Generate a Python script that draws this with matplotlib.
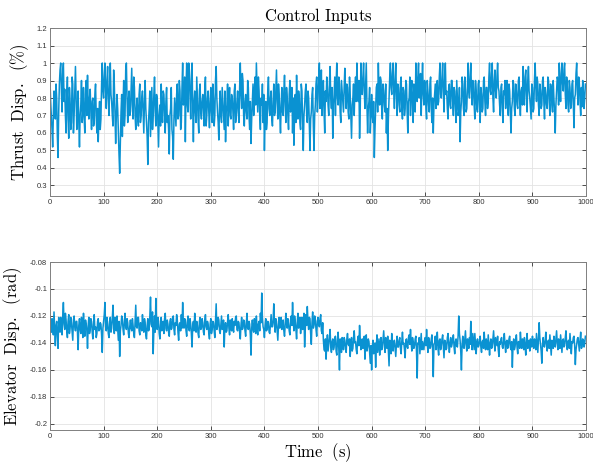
import matplotlib
matplotlib.use('Agg')
import matplotlib.pyplot as plt
import numpy as np
from matplotlib.ticker import FuncFormatter, MultipleLocator

# Valeurs relevees sur la figure
# poussee en %, echantillons a t = 0, 2.5, 5 ... (20 valeurs par tranche de 50 s)
thrust_pct = [
    90,70,52,84,68,80,46,88,100,72,100,85,60,92,57,78,66,88,70,98,
    62,84,52,76,66,86,60,90,93,68,85,62,80,66,88,60,55,78,68,100,
    80,100,74,98,70,100,78,64,88,54,82,60,37,72,58,90,70,100,66,84,
    72,97,68,86,62,80,64,88,70,84,60,90,66,42,74,58,86,70,92,64,
    80,52,76,88,66,82,60,86,70,48,74,62,45,80,64,88,70,84,66,100,
    78,55,100,72,96,68,100,55,84,66,80,60,88,68,82,64,92,70,84,63,
    86,66,80,70,98,72,56,84,66,78,62,55,76,64,86,68,80,62,88,70,
    84,66,100,74,90,64,82,68,86,62,54,78,70,92,100,72,84,62,76,66,
    50,78,66,92,70,84,64,88,72,96,68,82,60,86,70,93,66,80,62,90,
    74,60,53,82,93,68,80,62,84,50,76,88,66,80,50,72,86,50,76,92,
    80,100,84,70,90,60,78,86,70,98,74,57,82,70,100,76,88,66,84,72,
    97,74,86,68,82,57,80,70,92,100,78,57,100,82,100,74,100,60,78,60,
    82,66,46,74,88,100,76,90,68,84,72,60,50,80,100,82,100,74,100,70,
    86,72,92,68,84,74,88,60,80,70,90,66,84,100,78,100,86,70,100,76,
    88,68,84,72,92,66,60,82,74,90,78,100,80,100,72,100,84,68,88,74,
    90,70,84,66,80,72,55,78,88,70,84,74,100,80,100,76,88,68,84,72,
    90,66,82,74,92,70,86,78,100,82,100,72,96,80,100,84,70,88,66,82,
    74,90,70,84,60,78,88,70,84,74,92,70,86,98,76,96,72,98,80,68,
    86,74,100,78,88,70,84,76,92,68,82,74,90,70,86,72,80,60,84,90,
    100,78,100,84,100,74,88,72,86,76,90,63,82,100,76,88,70,75,84,80,
]
# echantillons intermediaires a t = 1.25, 3.75 ...
thrust_pct_mid = [
    78,62,70,74,88,58,72,96,84,94,78,70,82,68,86,62,92,60,84,80,
    74,66,70,90,72,68,82,70,76,80,72,78,64,82,70,74,70,62,88,84,
    92,84,90,80,86,82,70,96,72,70,74,48,56,82,76,64,96,80,78,70,
    84,76,92,70,74,68,82,66,80,72,78,74,58,66,84,72,62,82,72,82,
    66,70,64,72,84,70,78,66,62,70,86,58,68,72,82,68,90,62,86,76,
    92,84,76,100,80,90,74,78,72,92,68,84,72,78,74,86,64,80,72,78,
    72,88,64,90,80,66,76,70,86,70,84,72,88,78,70,82,72,84,66,78,
    72,86,82,94,70,78,72,90,70,78,68,88,82,76,86,92,70,80,88,82,
    68,62,84,74,80,68,78,70,84,78,88,70,76,72,84,76,86,70,82,72,
    86,80,70,66,74,84,66,88,66,70,84,70,84,64,68,82,64,70,88,72,
    92,74,96,82,72,84,92,76,88,80,86,76,92,88,80,92,72,90,78,86,
    84,88,72,92,70,76,88,84,78,86,90,74,86,92,84,88,76,74,86,70,
    70,78,62,86,72,84,92,74,88,76,88,74,68,92,86,94,84,90,82,88,
    76,88,74,86,70,90,72,78,92,84,76,88,72,88,92,80,94,88,82,90,
    74,90,76,88,74,80,76,88,84,76,92,82,92,84,90,82,74,86,76,90,
    78,86,74,90,70,86,72,92,74,92,72,88,84,92,84,90,76,90,74,88,
    76,86,72,90,78,86,74,92,84,94,80,90,84,92,86,76,86,74,84,90,
    86,76,88,72,74,90,74,88,76,90,78,84,76,84,92,82,90,84,74,88,
    72,90,86,92,76,88,74,90,78,86,76,92,78,88,76,90,72,76,92,76,
    86,94,88,96,82,92,76,90,74,88,76,80,94,84,92,78,86,90,74,88,
]

# gouverne de profondeur en mrad, memes instants
elevator_mrad = [
    -120,-132,-126,-117,-142,-124,-144,-128,-121,-134,-110,-130,-123,-136,-119,-129,-125,-138,-120,-131,
    -124,-145,-122,-133,-127,-118,-135,-126,-144,-121,-130,-124,-137,-119,-128,-133,-122,-130,-126,-147,
    -124,-110,-131,-126,-136,-121,-129,-112,-133,-125,-120,-138,-150,-127,-122,-134,-118,-130,-125,-136,
    -123,-131,-127,-136,-112,-129,-121,-134,-126,-119,-132,-125,-137,-122,-130,-106,-128,-148,-120,-107,
    -130,-124,-137,-121,-128,-133,-118,-131,-126,-135,-122,-129,-120,-134,-127,-123,-138,-125,-119,-110,
    -129,-123,-135,-120,-131,-126,-143,-124,-118,-132,-127,-136,-121,-129,-125,-134,-119,-130,-126,-137,
    -122,-130,-125,-136,-111,-128,-123,-133,-120,-129,-143,-125,-131,-119,-134,-126,-122,-132,-127,-120,
    -131,-125,-137,-121,-129,-124,-135,-118,-130,-126,-149,-123,-132,-127,-120,-134,-124,-118,-103,-128,
    -136,-122,-130,-125,-133,-119,-128,-111,-132,-124,-138,-121,-127,-130,-123,-135,-118,-129,-126,-134,
    -120,-110,-131,-124,-137,-118,-128,-133,-121,-126,-143,-119,-113,-130,-122,-141,-117,-127,-123,-135,
    -121,-128,-119,-133,-138,-146,-152,-134,-141,-130,-147,-137,-143,-135,-149,-132,-160,-140,-136,-145,
    -138,-147,-133,-142,-150,-136,-144,-131,-139,-148,-135,-127,-145,-137,-141,-152,-134,-143,-139,-155,
    -160,-138,-145,-158,-134,-142,-149,-136,-144,-131,-147,-139,-135,-157,-141,-133,-146,-138,-150,-135,
    -143,-136,-148,-132,-140,-151,-137,-144,-134,-130,-146,-139,-142,-135,-166,-141,-148,-133,-139,-145,
    -136,-130,-147,-138,-143,-134,-165,-140,-145,-132,-149,-137,-142,-134,-151,-139,-144,-133,-147,-136,
    -141,-134,-148,-137,-143,-120,-138,-160,-135,-144,-131,-146,-140,-136,-124,-145,-139,-133,-148,-137,
    -142,-135,-147,-138,-132,-145,-140,-134,-149,-137,-143,-131,-146,-139,-135,-150,-141,-136,-144,-133,
    -147,-138,-142,-135,-145,-158,-137,-143,-134,-148,-139,-132,-144,-140,-136,-149,-133,-142,-146,-138,
    -135,-144,-139,-133,-147,-125,-141,-155,-136,-143,-132,-146,-138,-134,-149,-140,-135,-143,-131,-145,
    -139,-134,-147,-137,-142,-131,-145,-138,-133,-148,-140,-135,-156,-141,-136,-146,-132,-143,-138,-140,
]
elevator_mrad_mid = [
    -128,-122,-134,-130,-127,-135,-121,-132,-129,-120,-126,-118,-131,-124,-133,-121,-132,-123,-128,-124,
    -132,-127,-130,-121,-136,-129,-123,-131,-127,-133,-122,-132,-126,-130,-136,-124,-131,-125,-134,-129,
    -119,-128,-121,-133,-124,-132,-122,-126,-121,-131,-129,-124,-131,-120,-130,-125,-127,-122,-133,-128,
    -129,-122,-133,-124,-128,-121,-131,-125,-131,-128,-122,-134,-127,-131,-120,-126,-117,-130,-132,-124,
    -121,-133,-127,-131,-124,-122,-129,-123,-132,-124,-130,-121,-130,-125,-119,-132,-126,-131,-129,-126,
    -122,-131,-125,-129,-122,-133,-127,-131,-128,-124,-133,-124,-130,-122,-132,-123,-128,-124,-133,-126,
    -133,-124,-131,-123,-130,-121,-131,-126,-130,-123,-128,-132,-124,-129,-123,-131,-129,-124,-121,-130,
    -124,-132,-127,-130,-123,-131,-125,-129,-124,-134,-129,-130,-122,-133,-129,-126,-131,-125,-121,-130,
    -127,-131,-124,-132,-126,-128,-123,-126,-122,-131,-127,-129,-121,-124,-131,-127,-125,-122,-131,-123,
    -127,-123,-120,-130,-125,-129,-121,-124,-130,-118,-129,-127,-124,-121,-133,-125,-129,-120,-130,-124,
    -126,-122,-131,-125,-145,-137,-141,-146,-136,-143,-139,-145,-136,-146,-138,-144,-137,-147,-142,-136,
    -144,-137,-141,-137,-141,-146,-136,-140,-145,-138,-142,-137,-138,-144,-135,-140,-146,-137,-147,-142,
    -143,-148,-140,-142,-147,-137,-141,-145,-137,-140,-136,-144,-146,-138,-148,-142,-139,-144,-141,-143,
    -138,-144,-139,-141,-145,-138,-143,-136,-141,-140,-136,-144,-137,-147,-140,-136,-140,-145,-142,-138,
    -142,-140,-136,-144,-137,-145,-141,-135,-139,-144,-138,-145,-137,-143,-138,-145,-136,-141,-140,-143,
    -137,-143,-139,-142,-135,-133,-146,-141,-143,-137,-141,-137,-144,-141,-137,-133,-145,-141,-139,-143,
    -138,-143,-139,-144,-141,-137,-145,-141,-140,-144,-137,-140,-136,-142,-145,-139,-137,-143,-139,-141,
    -139,-144,-137,-143,-139,-142,-145,-138,-143,-139,-144,-139,-137,-145,-142,-139,-144,-138,-137,-143,
    -141,-137,-145,-140,-137,-136,-146,-141,-142,-138,-141,-139,-144,-142,-138,-144,-141,-137,-140,-137,
    -144,-141,-138,-143,-136,-140,-139,-144,-141,-139,-136,-142,-145,-137,-141,-138,-144,-137,-143,-135,
]

T_FIN = 1000


def entrelacer(a, b):
    s = np.empty(len(a) + len(b))
    s[0::2] = a
    s[1::2] = b
    return s


poussee = entrelacer(thrust_pct, thrust_pct_mid) / 100.0
gouverne = entrelacer(elevator_mrad, elevator_mrad_mid) / 1000.0
temps = np.arange(len(poussee)) * (T_FIN / len(poussee))

plt.rcParams['mathtext.fontset'] = 'cm'
COULEUR = '#0a92d2'

fig = plt.figure(figsize=(5.93, 4.63), dpi=100)
ax1 = fig.add_axes([0.0843, 0.5767, 0.9040, 0.3628])
ax2 = fig.add_axes([0.0843, 0.0713, 0.9040, 0.3628])

fmt = FuncFormatter(lambda v, p: '%g' % round(v, 4))


def style_axe(ax):
    ax.set_xlim(0, 1000)
    ax.xaxis.set_major_locator(MultipleLocator(100))
    ax.grid(True, color='#e3e3e3', linewidth=0.6)
    ax.set_axisbelow(True)
    ax.tick_params(direction='in', top=True, right=True, length=3, width=0.6,
                   colors='#333333', labelsize=5.5, pad=2)
    for lab in ax.get_xticklabels() + ax.get_yticklabels():
        lab.set_family('Liberation Sans')
    for s in ax.spines.values():
        s.set_color('#808080')
        s.set_linewidth(0.7)
    ax.yaxis.set_major_formatter(fmt)
    ax.xaxis.set_major_formatter(fmt)


ax1.plot(temps, poussee, color=COULEUR, linewidth=1.1)
ax1.set_ylim(0.24, 1.2)
ax1.yaxis.set_major_locator(MultipleLocator(0.1))
style_axe(ax1)
ax1.set_ylabel(r'$\mathrm{Thrust\ \ Disp.\ \ (\%)}$', fontsize=12, labelpad=4)
ax1.set_title(r'$\mathrm{Control\ Inputs}$', fontsize=12, pad=5)

ax2.plot(temps, gouverne, color=COULEUR, linewidth=1.1)
ax2.set_ylim(-0.2045, -0.08)
ax2.yaxis.set_major_locator(MultipleLocator(0.02))
style_axe(ax2)
ax2.set_ylabel(r'$\mathrm{Elevator\ \ Disp.\ \ (rad)}$', fontsize=12, labelpad=4)
ax2.set_xlabel(r'$\mathrm{Time\ \ (s)}$', fontsize=12, labelpad=1)

fig.savefig('out.png', dpi=100)
